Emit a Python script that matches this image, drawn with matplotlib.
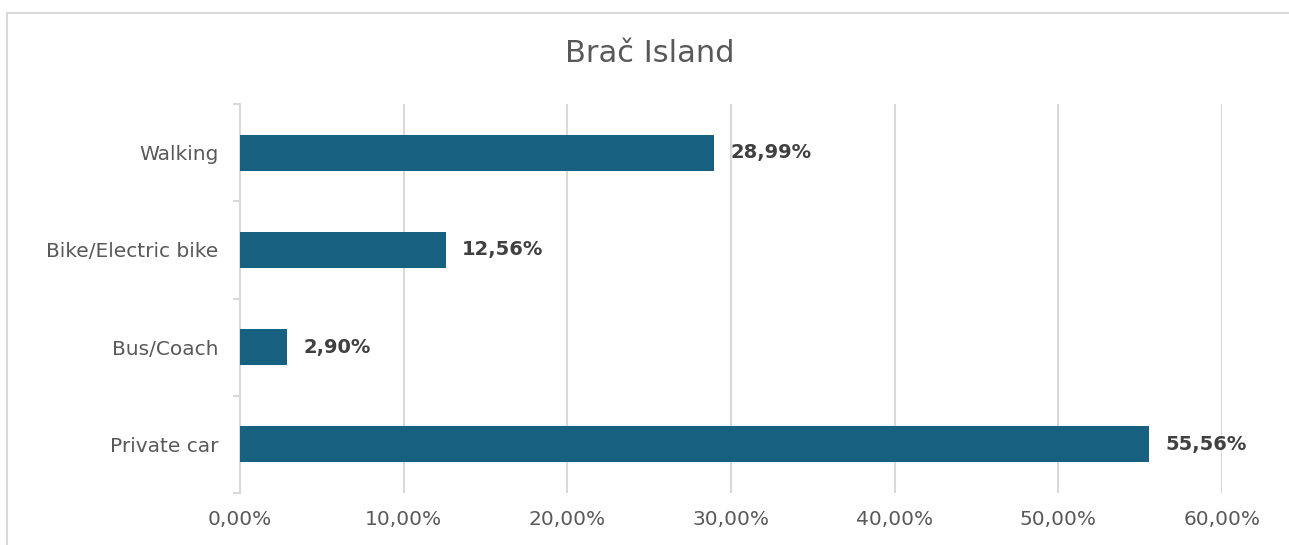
import numpy as np
import matplotlib.pyplot as plt
from matplotlib.lines import Line2D
from matplotlib.ticker import FuncFormatter

# Données
categories = ['Private car', 'Bus/Coach', 'Bike/Electric bike', 'Walking']
values = [55.56, 2.90, 12.56, 28.99]
xticks = [0, 10, 20, 30, 40, 50, 60]

plt.rcParams['font.family'] = ['DejaVu Sans']

fig = plt.figure(figsize=(12.89, 5.45), dpi=100)
ax = fig.add_axes([240 / 1289, 52 / 545, 982 / 1289, 389 / 545])

y = np.arange(len(categories))
ax.barh(y, values, height=0.37, color='#17607f', zorder=3)

# Étiquettes de valeur
for yi, v in zip(y, values):
    ax.text(v + 1.0, yi, f'{v:.2f}%'.replace('.', ','), va='center', ha='left',
            fontsize=14, fontweight='bold', color='#404040')

ax.set_xlim(0, 60)
ax.set_ylim(-0.5, len(categories) - 0.5)
ax.set_xticks(xticks)
ax.xaxis.set_major_formatter(FuncFormatter(lambda v, p: f'{v:.2f}%'.replace('.', ',')))
ax.set_yticks(y)
ax.set_yticklabels(categories)
ax.set_yticks(np.arange(-0.5, len(categories)), minor=True)

ax.grid(axis='x', color='#d9d9d9', linewidth=1.5, zorder=0)
for s in ['top', 'right', 'bottom']:
    ax.spines[s].set_visible(False)
ax.spines['left'].set_color('#d9d9d9')
ax.spines['left'].set_linewidth(1.5)

ax.tick_params(axis='x', length=0, labelsize=14.5, labelcolor='#595959', pad=12)
ax.tick_params(axis='y', which='major', length=0, labelsize=14.5, labelcolor='#595959', pad=15.5)
ax.tick_params(axis='y', which='minor', length=5, width=1.5, color='#d9d9d9')

fig.suptitle('Brač Island', x=650 / 1289, y=1 - 53 / 545, va='center',
             fontsize=22, color='#595959')

# Cadre du graphique
fig.add_artist(Line2D([7 / 1289, 1], [1 - 13 / 545, 1 - 13 / 545], color='#d9d9d9', linewidth=1.5))
fig.add_artist(Line2D([7 / 1289, 7 / 1289], [0, 1 - 13 / 545], color='#d9d9d9', linewidth=1.5))

fig.savefig('out.png', dpi=100, facecolor='white')
